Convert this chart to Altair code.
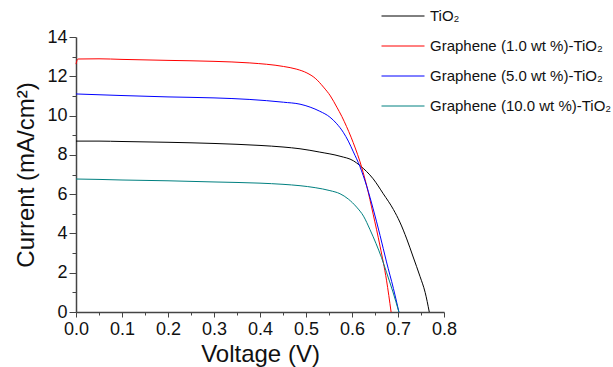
import altair as alt
import pandas as pd

# J-V curves of dye-sensitized cells with different graphene loadings in the TiO2 photoanode
series = [
    "TiO\u2082",
    "Graphene (1.0 wt %)-TiO\u2082",
    "Graphene (5.0 wt %)-TiO\u2082",
    "Graphene (10.0 wt %)-TiO\u2082",
]
colors = ["#000000", "#ff0000", "#0000ff", "#008080"]

v_tio2 = [0.0, 0.05, 0.1, 0.2, 0.3, 0.4, 0.45, 0.487, 0.53, 0.574, 0.603, 0.617,
          0.646, 0.668, 0.690, 0.704, 0.719, 0.733, 0.748, 0.759, 0.768]
j_tio2 = [8.70, 8.70, 8.68, 8.64, 8.58, 8.48, 8.40, 8.31, 8.14, 7.93, 7.70, 7.46,
          6.78, 6.02, 5.22, 4.58, 3.72, 2.80, 1.80, 1.00, 0.0]

v_g1 = [0.0, 0.004, 0.05, 0.1, 0.2, 0.3, 0.378, 0.451, 0.48, 0.502, 0.52, 0.538,
        0.553, 0.567, 0.578, 0.588, 0.598, 0.607, 0.617, 0.632, 0.646, 0.661,
        0.675, 0.685]
j_g1 = [12.62, 12.88, 12.89, 12.86, 12.81, 12.76, 12.68, 12.50, 12.36, 12.17,
        11.90, 11.45, 11.00, 10.43, 9.95, 9.45, 8.90, 8.35, 7.68, 6.42, 4.98, 3.35,
        1.62, 0.0]

v_g5 = [0.0, 0.05, 0.1, 0.2, 0.3, 0.378, 0.451, 0.487, 0.509, 0.53, 0.552, 0.567,
        0.581, 0.592, 0.603, 0.617, 0.632, 0.646, 0.661, 0.675, 0.690, 0.702]
j_g5 = [11.10, 11.06, 11.02, 10.95, 10.90, 10.82, 10.68, 10.58, 10.43, 10.22,
        9.92, 9.58, 9.15, 8.70, 8.15, 7.42, 6.40, 5.25, 3.90, 2.55, 1.20, 0.0]

v_g10 = [0.0, 0.05, 0.1, 0.2, 0.3, 0.4, 0.45, 0.487, 0.52, 0.552, 0.574, 0.592,
         0.610, 0.625, 0.639, 0.652, 0.664, 0.675, 0.689, 0.702]
j_g10 = [6.77, 6.75, 6.72, 6.68, 6.62, 6.56, 6.50, 6.43, 6.33, 6.18, 6.02, 5.75,
         5.34, 4.88, 4.20, 3.50, 2.78, 2.02, 1.02, 0.0]

x_ticks = [0.0, 0.05, 0.1, 0.15, 0.2, 0.25, 0.3, 0.35, 0.4, 0.45, 0.5, 0.55,
           0.6, 0.65, 0.7, 0.75, 0.8]
y_ticks = list(range(0, 15))

rows = []
for name, vs, js in zip(series, [v_tio2, v_g1, v_g5, v_g10], [j_tio2, j_g1, j_g5, j_g10]):
    for i, (v, j) in enumerate(zip(vs, js)):
        rows.append({"sample": name, "voltage": v, "current": j, "idx": i})
df = pd.DataFrame(rows)

font = "Liberation Sans"

x_axis = alt.Axis(
    values=x_ticks,
    labelExpr="round(datum.value*20) % 2 ? '' : format(datum.value, '.1f')",
    tickSize={"condition": {"test": "round(datum.value*20) % 2", "value": 3}, "value": 5},
    labelFlush=False,
    labelOverlap=False,
    labelFontSize=18,
    labelPadding=3,
    title="Voltage (V)",
    titleFontSize=24,
    titleFontWeight="normal",
    titlePadding=4,
    grid=False,
)
y_axis = alt.Axis(
    values=y_ticks,
    labelExpr="datum.value % 2 ? '' : datum.label",
    tickSize={"condition": {"test": "datum.value % 2", "value": 4}, "value": 7},
    labelFlush=False,
    labelOverlap=False,
    labelFontSize=18,
    labelPadding=2,
    title="Current (mA/cm\u00b2)",
    titleFontSize=24,
    titleFontWeight="normal",
    titlePadding=8,
    grid=False,
)

chart = (
    alt.Chart(df)
    .mark_line(strokeWidth=1, interpolate="monotone")
    .encode(
        x=alt.X("voltage:Q", scale=alt.Scale(domain=[0, 0.8], nice=False, zero=False), axis=x_axis),
        y=alt.Y("current:Q", scale=alt.Scale(domain=[0, 14], nice=False), axis=y_axis),
        color=alt.Color(
            "sample:N",
            scale=alt.Scale(domain=series, range=colors),
            legend=alt.Legend(
                title=None,
                orient="none",
                legendX=305,
                legendY=-43,
                symbolType="stroke",
                symbolSize=1849,
                symbolStrokeWidth=1,
                labelFontSize=15,
                labelOffset=5,
                rowPadding=-6,
                labelLimit=300,
            ),
        ),
        order="idx:Q",
    )
    .properties(
        width=368,
        height=275,
        autosize=alt.AutoSizeParams(type="none"),
        padding={"left": 76, "top": 37, "right": 169, "bottom": 55},
    )
    .configure_view(stroke=None)
    .configure_axis(
        labelFont=font,
        titleFont=font,
        labelColor="#111",
        titleColor="#111",
        domainColor="#444",
        domainWidth=1.5,
        tickColor="#444",
        tickWidth=1,
    )
    .configure_legend(labelFont=font, labelColor="#111")
)

chart.save("out.html", embed_options={"renderer": "svg", "actions": False})
